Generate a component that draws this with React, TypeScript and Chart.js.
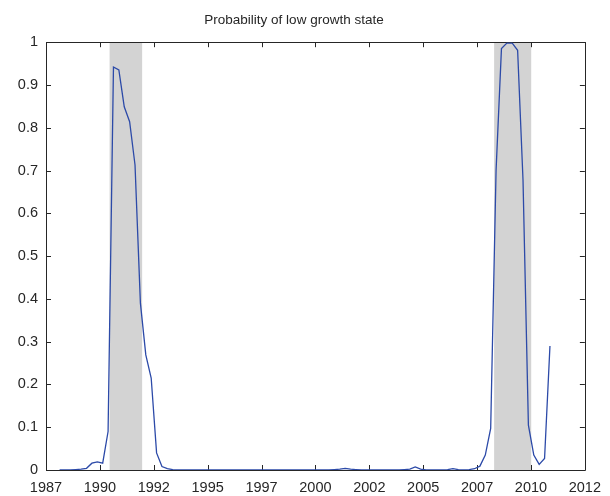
import React, { useEffect, useRef } from "react";
import { Chart, registerables } from "chart.js";

Chart.register(...registerables);

const titleText = "Probability of low growth state";

// Quarterly observation dates (decimal years): first quarter and step
const firstDate = 1987.63;
const quarterStep = 0.25;

// Probability of the low growth state, one value per quarter
const probLow: number[] = [
  0, 0, 0, 0.001, 0.002, 0.004, 0.016, 0.019, 0.016, 0.09,
  0.942, 0.935, 0.849, 0.814, 0.713, 0.39, 0.269, 0.215, 0.04, 0.008,
  0.003, 0.001, 0, 0, 0, 0, 0, 0, 0, 0,
  0, 0, 0, 0, 0, 0, 0, 0, 0, 0,
  0, 0, 0, 0, 0, 0, 0, 0, 0, 0,
  0, 0.001, 0.002, 0.004, 0.002, 0.001, 0, 0, 0, 0,
  0, 0, 0, 0, 0.001, 0.002, 0.007, 0.002, 0, 0,
  0, 0, 0.001, 0.003, 0.001, 0, 0.001, 0.003, 0.009, 0.035,
  0.097, 0.70, 0.985, 0.998, 0.998, 0.981, 0.678, 0.105, 0.035, 0.013,
  0.027, 0.29,
];

// Shaded (recession) periods, decimal years
const shadeStarts = [1989.95, 2007.79];
const shadeEnds = [1991.46, 2009.51];

// Axis ticks
const xTickValues = [1987, 1989.5, 1992, 1994.5, 1997, 1999.5, 2002, 2004.5, 2007, 2009.5, 2012];
const xTickLabels = ["1987", "1990", "1992", "1995", "1997", "2000", "2002", "2005", "2007", "2010", "2012"];
const yTickValues = [0, 0.1, 0.2, 0.3, 0.4, 0.5, 0.6, 0.7, 0.8, 0.9, 1];

const lineColor = "#2c4aa8";
const shadeColor = "#d3d3d3";
const axisColor = "#262626";
const textColor = "#262626";
const fontFamily = "'Liberation Sans', Arial, Helvetica, sans-serif";

const shadePlugin = {
  id: "shadePlugin",
  beforeDatasetsDraw(chart: any) {
    const { ctx, chartArea, scales } = chart;
    const x = scales.x;
    ctx.save();
    ctx.fillStyle = shadeColor;
    for (let i = 0; i < shadeStarts.length; i++) {
      const x0 = x.getPixelForValue(shadeStarts[i]);
      const x1 = x.getPixelForValue(shadeEnds[i]);
      ctx.fillRect(x0, chartArea.top, x1 - x0, chartArea.bottom - chartArea.top);
    }
    // box and inward ticks
    const { left, right, top, bottom } = chartArea;
    ctx.strokeStyle = axisColor;
    ctx.lineWidth = 1;
    ctx.beginPath();
    ctx.rect(Math.round(left) + 0.5, Math.round(top) + 0.5, Math.round(right - left), Math.round(bottom - top));
    ctx.stroke();
    const tl = 5;
    ctx.beginPath();
    for (const v of xTickValues) {
      const px = Math.round(x.getPixelForValue(v)) + 0.5;
      ctx.moveTo(px, bottom);
      ctx.lineTo(px, bottom - tl);
      ctx.moveTo(px, top);
      ctx.lineTo(px, top + tl);
    }
    const y = scales.y;
    for (const v of yTickValues) {
      const py = Math.round(y.getPixelForValue(v)) + 0.5;
      ctx.moveTo(left, py);
      ctx.lineTo(left + tl, py);
      ctx.moveTo(right, py);
      ctx.lineTo(right - tl, py);
    }
    ctx.stroke();
    ctx.restore();
  },
};

export default function App() {
  const canvasRef = useRef<HTMLCanvasElement | null>(null);

  useEffect(() => {
    const canvas = canvasRef.current;
    if (!canvas) return;
    const points = probLow.map((p, i) => ({ x: firstDate + quarterStep * i, y: p }));
    const chart = new Chart(canvas, {
      type: "line",
      data: {
        datasets: [
          {
            data: points,
            borderColor: lineColor,
            borderWidth: 1.3,
            pointRadius: 0,
            tension: 0,
            fill: false,
          },
        ],
      },
      options: {
        responsive: false,
        animation: false,
        maintainAspectRatio: false,
        layout: { padding: { left: 0, right: 22, top: 0, bottom: 0 } },
        plugins: {
          legend: { display: false },
          tooltip: { enabled: false },
          title: {
            display: true,
            text: titleText,
            color: textColor,
            font: { family: fontFamily, size: 13.5, weight: "normal" },
            padding: { top: 12, bottom: 14 },
          },
        },
        scales: {
          x: {
            type: "linear",
            min: 1987,
            max: 2012,
            afterBuildTicks: (scale: any) => {
              scale.ticks = xTickValues.map((v) => ({ value: v }));
            },
            afterFit: (scale: any) => {
              scale.height = 26;
            },
            grid: { display: false, drawTicks: false },
            border: { display: false },
            ticks: {
              autoSkip: false,
              maxRotation: 0,
              padding: 9,
              color: textColor,
              font: { family: fontFamily, size: 14.5 },
              callback: (_v: any, index: number) => xTickLabels[index],
            },
          },
          y: {
            type: "linear",
            min: 0,
            max: 1,
            afterBuildTicks: (scale: any) => {
              scale.ticks = yTickValues.map((v) => ({ value: v }));
            },
            afterFit: (scale: any) => {
              scale.width = 46;
            },
            grid: { display: false, drawTicks: false },
            border: { display: false },
            ticks: {
              autoSkip: false,
              padding: 8,
              color: textColor,
              font: { family: fontFamily, size: 14.5 },
              callback: (v: any) => String(Math.round(Number(v) * 10) / 10),
            },
          },
        },
      },
      plugins: [shadePlugin],
    });
    return () => chart.destroy();
  }, []);

  return (
    <div style={{ position: "fixed", left: 0, top: 0, width: 610, height: 496, background: "#fff" }}>
      <canvas ref={canvasRef} width={610} height={496} style={{ display: "block", width: 610, height: 496 }} />
    </div>
  );
}
